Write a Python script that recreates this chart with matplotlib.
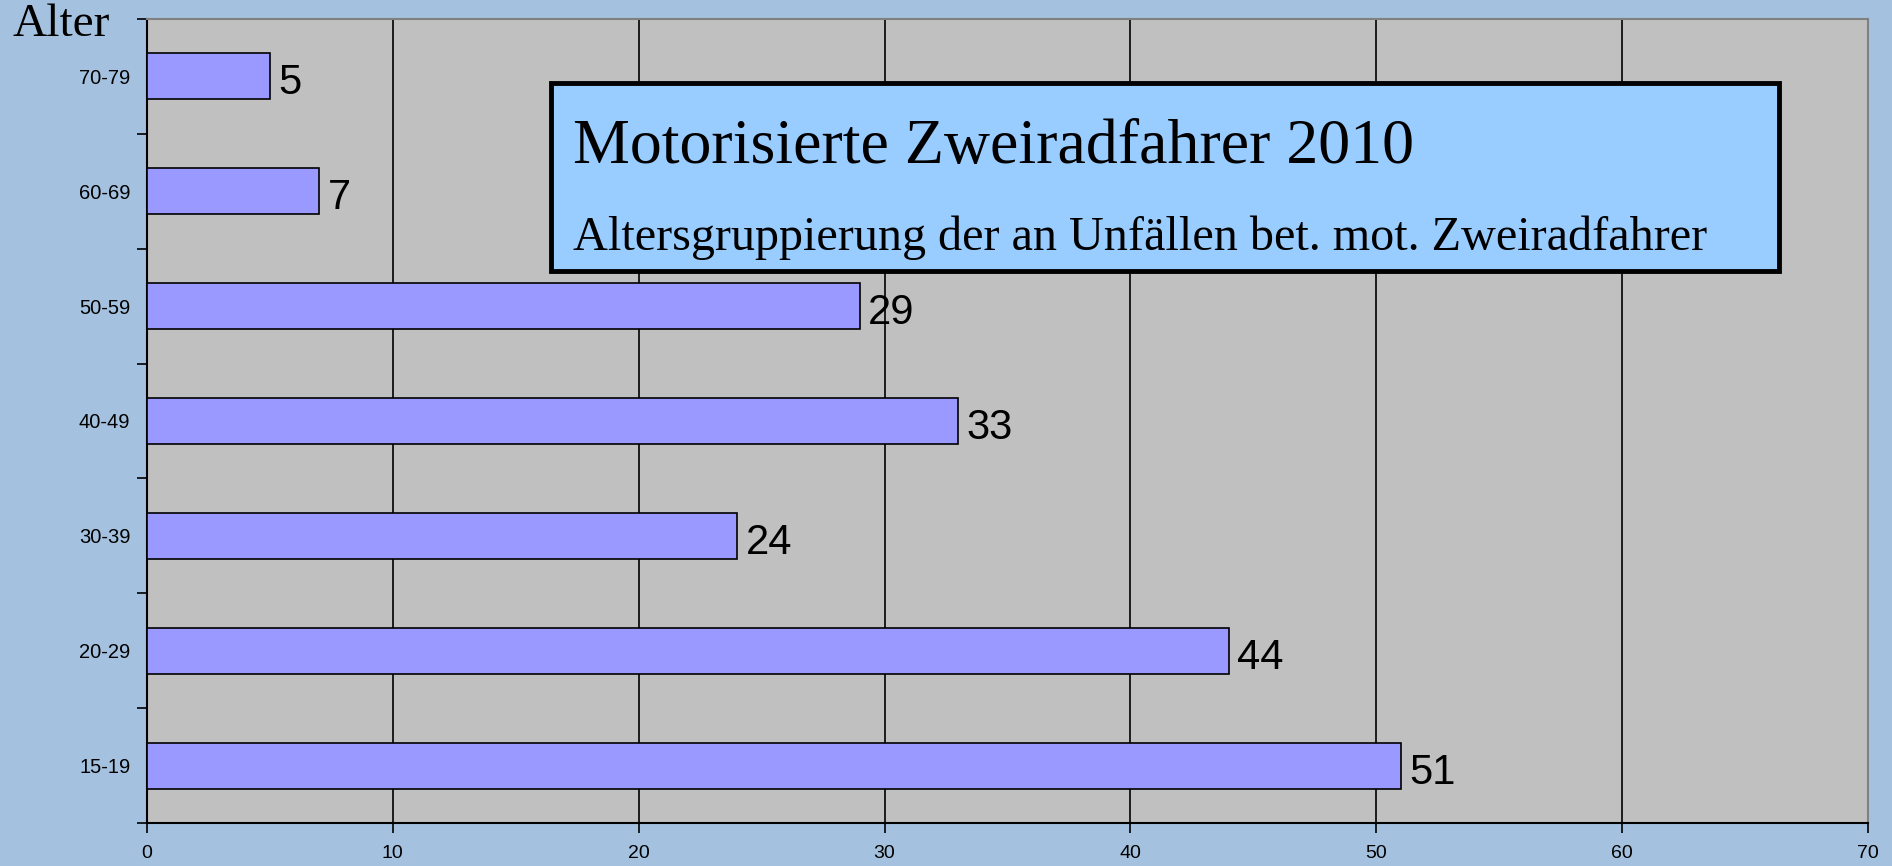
import matplotlib.pyplot as plt
from matplotlib.patches import Rectangle

# age groups, bottom to top as drawn
groups = ["15-19", "20-29", "30-39", "40-49", "50-59", "60-69", "70-79"]
counts = [51, 44, 24, 33, 29, 7, 5]
xticks = [0, 10, 20, 30, 40, 50, 60, 70]

title = "Motorisierte Zweiradfahrer 2010"
subtitle = "Altersgruppierung der an Unfällen bet. mot. Zweiradfahrer"

bg = "#A4C2DF"
fig = plt.figure(figsize=(18.92, 8.66), dpi=100, facecolor=bg)
ax = fig.add_axes([147 / 1892, 1 - 823 / 866, (1868 - 147) / 1892, (823 - 19) / 866])
ax.set_facecolor("#C0C0C0")

ypos = list(range(len(groups)))
bars = ax.barh(ypos, counts, height=0.4, color="#9999FF", edgecolor="black",
               linewidth=1.2, zorder=3)
for y, v in zip(ypos, counts):
    ax.annotate(str(v), (v, y), xytext=(6, -13), textcoords="offset points",
                ha="left", va="baseline", fontsize=30, family="Liberation Sans")

ax.set_xlim(0, 70)
ax.set_ylim(-0.5, len(groups) - 0.5)
ax.set_xticks(xticks)
ax.set_xticklabels([str(t) for t in xticks], fontsize=14, family="Liberation Sans")
ax.tick_params(axis="x", direction="out", length=7, width=1.2, pad=9)

# category boundaries get tick marks, labels sit in between
ax.set_yticks([i - 0.5 for i in range(len(groups) + 1)])
ax.set_yticklabels([])
ax.set_yticks(ypos, minor=True)
ax.set_yticklabels(groups, minor=True, fontsize=14.5, family="Liberation Sans")
ax.tick_params(axis="y", which="major", direction="out", length=7, width=1.2)
ax.tick_params(axis="y", which="minor", length=0, pad=12)

ax.grid(axis="x", color="black", linewidth=1.2, zorder=1)
ax.set_axisbelow(True)
for s in ["left", "bottom"]:
    ax.spines[s].set_color("black")
    ax.spines[s].set_linewidth(1.5)
for s in ["top", "right"]:
    ax.spines[s].set_color("#808080")
    ax.spines[s].set_linewidth(1.5)

fig.text(12 / 1892, 1 - 36 / 866, "Alter", fontsize=34, family="Liberation Serif",
         ha="left", va="baseline")

# title box
box = Rectangle((551 / 1892, 1 - 271 / 866), (1779 - 551) / 1892, 188 / 866,
                transform=fig.transFigure, facecolor="#99CCFF", edgecolor="black",
                linewidth=3.5, zorder=10)
fig.patches.append(box)
fig.text(573 / 1892, 1 - 163 / 866, title, fontsize=46, family="Liberation Serif",
         ha="left", va="baseline", zorder=11)
fig.text(573 / 1892, 1 - 250 / 866, subtitle, fontsize=34.7, family="Liberation Serif",
         ha="left", va="baseline", zorder=11)

fig.savefig("out.png", dpi=100, facecolor=bg)
